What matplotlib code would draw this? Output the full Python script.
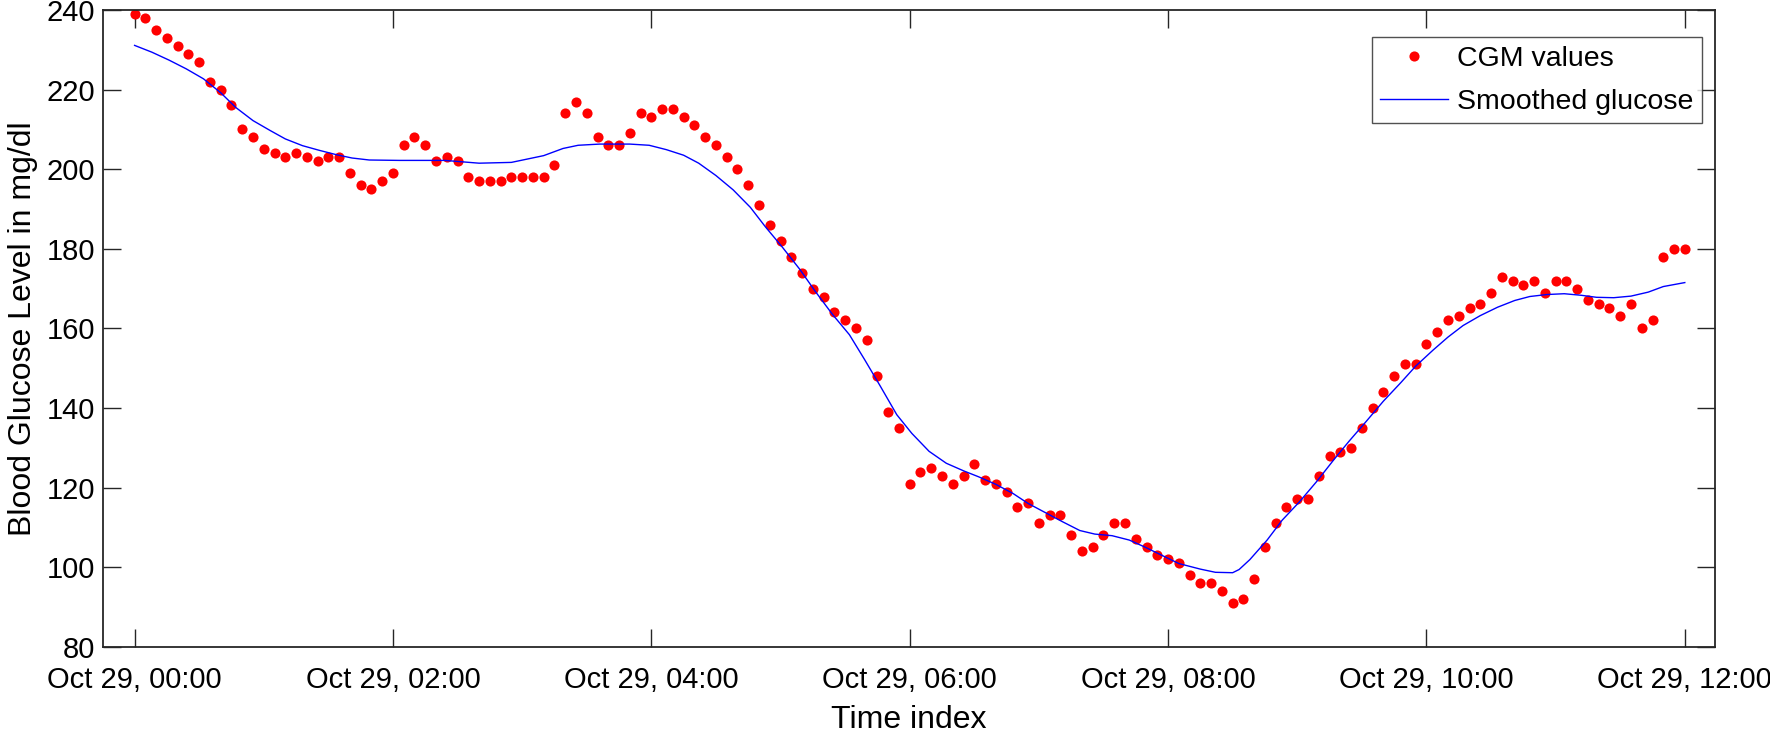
import matplotlib
matplotlib.use("Agg")
import matplotlib.pyplot as plt
import matplotlib.dates as mdates
import numpy as np
import pandas as pd

# CGM readings, one every 5 minutes from 00:00 to 12:00
cgm_values = [
    239, 238, 235, 233, 231, 229, 227, 222, 220, 216,
    210, 208, 205, 204, 203, 204, 203, 202, 203, 203,
    199, 196, 195, 197, 199, 206, 208, 206, 202, 203,
    202, 198, 197, 197, 197, 198, 198, 198, 198, 201,
    214, 217, 214, 208, 206, 206, 209, 214, 213, 215,
    215, 213, 211, 208, 206, 203, 200, 196, 191, 186,
    182, 178, 174, 170, 168, 164, 162, 160, 157, 148,
    139, 135, 121, 124, 125, 123, 121, 123, 126, 122,
    121, 119, 115, 116, 111, 113, 113, 108, 104, 105,
    108, 111, 111, 107, 105, 103, 102, 101, 98, 96,
    96, 94, 91, 92, 97, 105, 111, 115, 117, 117,
    123, 128, 129, 130, 135, 140, 144, 148, 151, 151,
    156, 159, 162, 163, 165, 166, 169, 173, 172, 171,
    172, 169, 172, 172, 170, 167, 166, 165, 163, 166,
    160, 162, 178, 180, 180,
]

# smoothed curve (minutes after 00:00, mg/dl)
smooth_minutes = [
    0, 8, 16, 24, 32, 40, 47, 55, 63, 70, 78, 86, 94, 101, 109, 123,
    144, 160, 175, 190, 199, 206, 216, 230, 239, 247, 255, 262, 270, 278,
    286, 293, 301, 309, 316, 324, 332, 339, 346, 354, 361, 369, 377, 385,
    392, 400, 408, 415, 423, 431, 439, 446, 454, 462, 469, 477, 485, 495,
    502, 510, 513, 518, 526, 533, 541, 549, 557, 564, 572, 580, 588, 595,
    603, 610, 617, 625, 633, 641, 648, 656, 664, 672, 679, 687, 695, 703,
    710, 720,
]
smooth_values = [
    231.1, 229.4, 227.4, 225.2, 222.7, 219.2, 215.5, 212.2, 209.7, 207.6,
    205.9, 204.7, 203.6, 202.8, 202.3, 202.2, 202.2, 201.5, 201.7, 203.4,
    205.2, 206.0, 206.3, 206.3, 206.0, 204.9, 203.5, 201.5, 198.4, 194.8,
    190.4, 185.5, 180.3, 174.8, 169.4, 163.6, 158.4, 152.2, 145.8, 138.3,
    133.6, 129.1, 126.1, 124.2, 122.7, 120.8, 118.5, 116.0, 113.7, 111.4,
    109.2, 108.3, 107.9, 106.8, 105.1, 103.0, 100.9, 99.5, 98.7, 98.6,
    99.4, 101.9, 106.8, 111.8, 116.4, 121.5, 127.0, 131.6, 136.6, 141.7,
    146.3, 150.5, 154.5, 157.8, 160.7, 163.2, 165.3, 167.0, 168.0, 168.5,
    168.7, 168.3, 167.8, 167.7, 168.1, 169.1, 170.5, 171.5,
]

start = pd.Timestamp("2020-10-29 00:00")
t_cgm = pd.date_range(start, periods=len(cgm_values), freq="5min")
t_smooth = start + pd.to_timedelta(smooth_minutes, unit="min")

plt.rcParams["font.family"] = ["Liberation Sans", "DejaVu Sans"]

fig = plt.figure(figsize=(17.7, 7.33), dpi=100)
ax = fig.add_axes([0.0584, 0.1177, 0.9689 - 0.0584, 0.9864 - 0.1177])

ax.plot(t_cgm, cgm_values, "o", color="#ff0000", ms=7.3, mec="none", label="CGM values")
ax.plot(t_smooth, smooth_values, "-", color="#0000ff", lw=1.0, label="Smoothed glucose")

ax.set_ylim(80, 240)
ax.set_yticks(np.arange(80, 241, 20))
ax.set_xlim(start - pd.Timedelta(minutes=14.5), start + pd.Timedelta(hours=12, minutes=14))
ax.xaxis.set_major_locator(mdates.HourLocator(byhour=range(0, 13, 2)))
ax.xaxis.set_major_formatter(mdates.DateFormatter("%b %d, %H:%M"))

for s in ax.spines.values():
    s.set_color("#262626")
    s.set_linewidth(1.3)
ax.tick_params(direction="in", length=13, width=1.0, color="#262626",
               top=True, right=True, labelsize=21)
ax.tick_params(axis="x", pad=14)
ax.tick_params(axis="y", pad=6)

ax.set_xlabel("Time index", fontsize=23, labelpad=8)
ax.set_ylabel("Blood Glucose Level in mg/dl", fontsize=23, labelpad=6)

leg = ax.legend(loc="upper right", bbox_to_anchor=(0.9919, 0.9576), borderaxespad=0,
                fontsize=20.5, frameon=True, fancybox=False, handlelength=2.4,
                handletextpad=0.3, borderpad=0.3, labelspacing=0.6)
leg.get_frame().set_edgecolor("#262626")
leg.get_frame().set_linewidth(1.0)

fig.savefig("out.png", dpi=100)
